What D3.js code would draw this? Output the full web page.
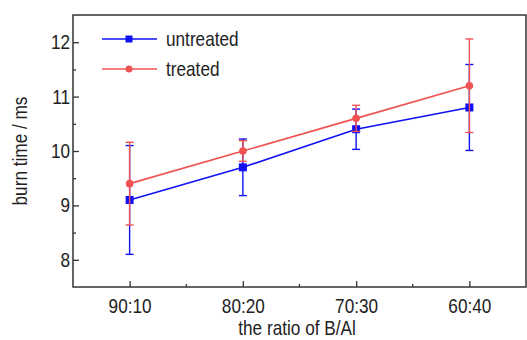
<!DOCTYPE html>
<html>
<head>
<meta charset="utf-8">
<script src="https://cdn.jsdelivr.net/npm/d3@7"></script>
<style>
  html, body { margin: 0; padding: 0; background: #fff; }
  svg { display: block; }
  text { font-family: "Liberation Sans", Arial, sans-serif; fill: #222; }
</style>
</head>
<body>
<svg id="chart" width="527" height="340"></svg>
<script>
const categories = ["90:10", "80:20", "70:30", "60:40"];
const untreated = [9.1, 9.7, 10.4, 10.8];
const untreatedErr = [1.0, 0.52, 0.37, 0.79];
const treated = [9.4, 10.0, 10.6, 11.2];
const treatedErr = [0.76, 0.19, 0.24, 0.86];
const yTicks = [8, 9, 10, 11, 12];
const yMinorTicks = [8.5, 9.5, 10.5, 11.5];
const seriesNames = ["untreated", "treated"];

const m = { left: 73, top: 15, right: 526, bottom: 287 };
const svg = d3.select("#chart");

const x = d3.scalePoint().domain(categories).range([m.left, m.right]).padding(0.5);
const y = d3.scaleLinear().domain([7.5, 12.5]).range([m.bottom, m.top]);

const axisColor = "#333";
const fontSize = 20;
const squeeze = 0.86; // the reference font is narrow

function narrowText(sel) {
  sel.style("font-size", fontSize + "px").attr("fill", "#222");
  sel.each(function () {
    const t = d3.select(this);
    const tx = +t.attr("x") || 0, ty = +t.attr("y") || 0;
    const prev = t.attr("transform") || "";
    t.attr("x", 0).attr("y", 0)
     .attr("transform", `${prev} translate(${tx},${ty}) scale(${squeeze},1)`);
  });
}

// frame
svg.append("rect")
  .attr("x", m.left).attr("y", m.top)
  .attr("width", m.right - m.left).attr("height", m.bottom - m.top)
  .attr("fill", "none").attr("stroke", axisColor).attr("stroke-width", 1.5);

// y axis
const yAxis = svg.append("g").attr("transform", `translate(${m.left},0)`)
  .call(d3.axisLeft(y).tickValues(yTicks).tickFormat(d3.format("d")).tickSizeInner(-6).tickSizeOuter(0).tickPadding(3));
yAxis.select(".domain").remove();
yAxis.selectAll("line").attr("stroke", axisColor).attr("stroke-width", 1.3);
narrowText(yAxis.selectAll("text"));

const yMinor = svg.append("g").attr("transform", `translate(${m.left},0)`)
  .call(d3.axisLeft(y).tickValues(yMinorTicks).tickFormat("").tickSizeInner(-3).tickSizeOuter(0));
yMinor.select(".domain").remove();
yMinor.selectAll("line").attr("stroke", axisColor).attr("stroke-width", 1.3);

// x axis
const xAxis = svg.append("g").attr("transform", `translate(0,${m.bottom})`)
  .call(d3.axisBottom(x).tickSizeInner(-6).tickSizeOuter(0).tickPadding(12));
xAxis.select(".domain").remove();
xAxis.selectAll("line").attr("stroke", axisColor).attr("stroke-width", 1.3);
narrowText(xAxis.selectAll("text"));

// x minor ticks at midpoints between categories
const mids = categories.slice(0, -1).map((c, i) => (x(c) + x(categories[i + 1])) / 2);
svg.append("g").selectAll("line").data(mids).join("line")
  .attr("x1", d => d).attr("x2", d => d)
  .attr("y1", m.bottom).attr("y2", m.bottom - 3)
  .attr("stroke", axisColor).attr("stroke-width", 1.3);

// axis titles
svg.append("text")
  .attr("transform", `translate(297,335) scale(${squeeze},1)`)
  .attr("text-anchor", "middle")
  .style("font-size", fontSize + "px")
  .text("the ratio of B/Al");
svg.append("text")
  .attr("transform", `translate(27,${(m.top + m.bottom) / 2}) rotate(-90) scale(${squeeze},1)`)
  .attr("text-anchor", "middle")
  .style("font-size", fontSize + "px")
  .text("burn time / ms");

const colors = { untreated: "#1010f5", treated: "#f05252" };

function drawSeries(vals, errs, color, marker) {
  const g = svg.append("g");
  const line = d3.line().x((d, i) => x(categories[i])).y(d => y(d));
  g.append("path").datum(vals)
    .attr("d", line).attr("fill", "none")
    .attr("stroke", color).attr("stroke-width", 1.6);
  const eb = g.append("g").selectAll("g").data(vals).join("g");
  eb.append("line")
    .attr("x1", (d, i) => x(categories[i])).attr("x2", (d, i) => x(categories[i]))
    .attr("y1", (d, i) => y(d - errs[i])).attr("y2", (d, i) => y(d + errs[i]))
    .attr("stroke", color).attr("stroke-width", 1.4);
  [-1, 1].forEach(s => {
    eb.append("line")
      .attr("x1", (d, i) => x(categories[i]) - 4).attr("x2", (d, i) => x(categories[i]) + 4)
      .attr("y1", (d, i) => y(d + s * errs[i])).attr("y2", (d, i) => y(d + s * errs[i]))
      .attr("stroke", color).attr("stroke-width", 1.4);
  });
  if (marker === "square") {
    g.append("g").selectAll("rect").data(vals).join("rect")
      .attr("x", (d, i) => x(categories[i]) - 4).attr("y", d => y(d) - 4)
      .attr("width", 8).attr("height", 8).attr("fill", color);
  } else {
    g.append("g").selectAll("circle").data(vals).join("circle")
      .attr("cx", (d, i) => x(categories[i])).attr("cy", d => y(d))
      .attr("r", 3.8).attr("fill", color);
  }
}

drawSeries(untreated, untreatedErr, colors.untreated, "square");
drawSeries(treated, treatedErr, colors.treated, "circle");

// legend
const legend = svg.append("g");
const legendY = [39, 69];
seriesNames.forEach((name, i) => {
  const ly = legendY[i];
  const c = colors[name];
  legend.append("line").attr("x1", 102).attr("x2", 157).attr("y1", ly).attr("y2", ly)
    .attr("stroke", c).attr("stroke-width", 1.6);
  if (i === 0) {
    legend.append("rect").attr("x", 125.5).attr("y", ly - 3.5).attr("width", 7).attr("height", 7).attr("fill", c);
  } else {
    legend.append("circle").attr("cx", 129).attr("cy", ly).attr("r", 3.5).attr("fill", c);
  }
  legend.append("text")
    .attr("transform", `translate(166,${ly}) scale(${squeeze},1)`)
    .attr("dy", "0.35em")
    .style("font-size", fontSize + "px").text(name);
});
</script>
</body>
</html>
